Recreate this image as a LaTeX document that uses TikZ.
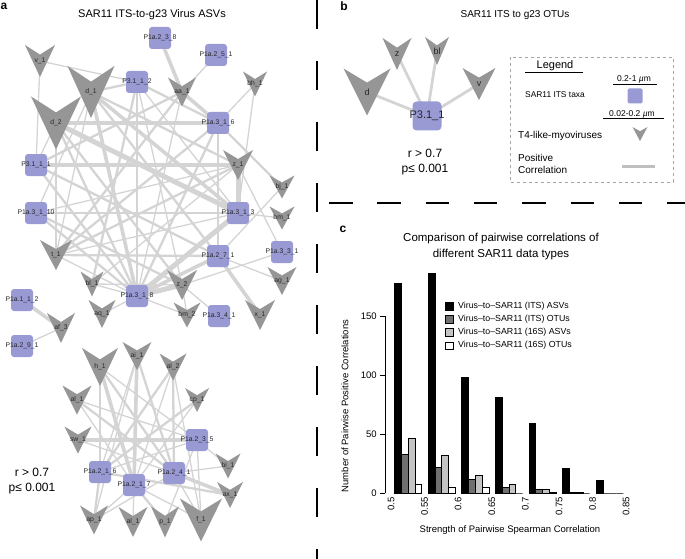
\documentclass[tikz,border=0pt]{standalone}
\usepackage{fontspec}
\setmainfont{Liberation Sans}
\usetikzlibrary{backgrounds}

\definecolor{taxfill}{RGB}{153,153,212}
\definecolor{virfill}{RGB}{150,150,150}
\definecolor{linkgray}{RGB}{212,212,212}
\definecolor{bardark}{RGB}{112,112,112}
\definecolor{barlight}{RGB}{196,196,196}

% virus: name, x, y, width, height, label
\newcommand{\virus}[6]{%
  \fill[virfill] ({#2-#4/2},{#3-#5/2}) -- ({#2},{#3-0.2*#5}) -- ({#2+#4/2},{#3-#5/2}) -- ({#2},{#3+#5/2}) -- cycle;
  \node[virlabel] (#1) at (#2,#3) {#6};
}
% taxon: name, x, y, label
\newcommand{\taxon}[4]{%
  \node[taxbox, label={[taxlabel]center:#4}] (#1) at (#2,#3) {};
}

\begin{document}
\begin{tikzpicture}[x=1pt, y=-1pt,
  virlabel/.style={inner sep=0pt, text=black!85, font=\fontsize{6.8}{7}\selectfont},
  taxbox/.style={fill=taxfill, rounded corners=3pt, minimum size=22pt, inner sep=0pt},
  taxlabel/.style={inner sep=0pt, text=black!85, font=\fontsize{6.8}{7}\selectfont},
  thinlink/.style={linkgray, line width=1.3pt},
  midlink/.style={linkgray, line width=2.3pt},
  thicklink/.style={linkgray, line width=3.6pt},
  heavylink/.style={linkgray, line width=5pt},
  sepline/.style={black, line width=2.7pt},
  paneltag/.style={font=\bfseries\fontsize{12}{14}\selectfont, inner sep=0pt},
  paneltitle/.style={font=\fontsize{11}{13}\selectfont, inner sep=0pt},
  stat/.style={font=\fontsize{12}{15}\selectfont, inner sep=0pt, align=center},
  legtext/.style={font=\fontsize{10}{12}\selectfont, inner sep=0pt, anchor=west},
  charttext/.style={font=\fontsize{9.5}{11}\selectfont, inner sep=0pt},
  keytext/.style={font=\fontsize{8.8}{10}\selectfont, inner sep=0pt, anchor=west},
  barbox/.style={draw=black, line width=0.5pt}
]
\useasboundingbox (0,0) rectangle (685,559);

% panel separators
\draw[sepline, dash pattern=on 29pt off 32pt] (317,0) -- (317,559);
\draw[sepline, dash pattern=on 23.5pt off 24.8pt] (329,203) -- (685,203);

% panel a
\node[paneltag] (taga) at (4,6) {a};
\node[paneltitle] (titlea) at (152,15) {SAR11 ITS-to-g23 Virus ASVs};

% upper network
\taxon{p238}{160}{38}{P1a.2\_3\_8}
\taxon{p251}{216}{55}{P1a.2\_5\_1}
\taxon{p3112}{137}{82}{P3.1\_1\_2}
\taxon{p316}{218}{123}{P1a.3\_1\_6}
\taxon{p3111}{36}{165}{P3.1\_1\_1}
\taxon{p3110}{36}{213}{P1a.3\_1\_10}
\taxon{p313}{238}{213}{P1a.3\_1\_3}
\taxon{p271}{218}{256}{P1a.2\_7\_1}
\taxon{p331}{282}{252}{P1a.3\_3\_1}
\taxon{p318}{137}{296}{P1a.3\_1\_8}
\taxon{p341}{219}{316}{P1a.3\_4\_1}
\taxon{p112}{22}{300}{P1a.1\_1\_2}
\taxon{p291}{22}{346}{P1a.2\_9\_1}
\virus{v1}{40}{61}{30}{32}{v\_1}
\virus{d1}{91}{92}{47}{52}{d\_1}
\virus{d2}{56}{123}{50}{53}{d\_2}
\virus{aa1}{182}{92}{28}{29}{aa\_1}
\virus{bh1}{255}{84}{24}{25}{bh\_1}
\virus{z1}{238}{165}{30}{30}{z\_1}
\virus{bj1}{282}{187}{25}{23}{bj\_1}
\virus{bm1}{282}{218}{25}{23}{bm\_1}
\virus{t1}{56}{255}{32}{30}{t\_1}
\virus{bl1}{92}{284}{23}{25}{bl\_1}
\virus{z2}{182}{285}{30}{30}{z\_2}
\virus{ag1}{282}{281}{29}{28}{ag\_1}
\virus{aq1}{102}{314}{27}{28}{aq\_1}
\virus{bm2}{187}{315}{27}{25}{bm\_2}
\virus{x1}{260}{315}{30}{30}{x\_1}
\virus{af3}{61}{328}{28}{30}{af\_3}

% lower network
\virus{h1}{100}{367}{36}{38}{h\_1}
\virus{ai1}{137}{356}{29}{28}{ai\_1}
\virus{al2}{173}{367}{27}{27}{al\_2}
\virus{al1a}{77}{400}{29}{29}{al\_1}
\virus{cp1}{197}{400}{24}{24}{cp\_1}
\virus{sw1}{78}{440}{27}{27}{sw\_1}
\taxon{p235}{197}{440}{P1a.2\_3\_5}
\taxon{p216}{100}{472}{P1a.2\_1\_6}
\taxon{p217}{134}{485}{P1a.2\_1\_7}
\taxon{p241}{174}{473}{P1a.2\_4\_1}
\virus{bi1}{228}{466}{25}{25}{bi\_1}
\virus{ax1}{230}{495}{26}{26}{ax\_1}
\virus{ap1}{94}{520}{28}{29}{ap\_1}
\virus{al1b}{133}{522}{29}{30}{al\_1}
\virus{p1}{165}{522}{28}{31}{p\_1}
\virus{f1}{201}{520}{42}{43}{f\_1}

\node[stat] (stata) at (32,481) {r > 0.7\\p≤ 0.001};

% correlations, panel a
\begin{scope}[on background layer]
\foreach \a/\b in {v1/p3112, v1/p3111, d1/p3110, d1/t1, d2/p3111, d2/t1, p3112/z2, p3112/p313,
    p3112/p318, p251/aa1, aa1/p318, bh1/p316, bh1/p313, p316/p271, z1/p331, z1/bl1, p3110/z1,
    p313/bm1, p313/t1, bj1/p271, t1/p318, p271/ag1, p331/z2, bl1/p318, bl1/z2, aq1/p318,
    bm2/p318, bm2/z2, z2/p341, p291/af3,
    h1/p235, h1/p216, ai1/p216, ai1/ap1, al2/p217, al2/f1, al1a/p235, al1a/p217, cp1/p217,
    sw1/p241, p235/bi1, p235/f1, p235/p1, p235/p216, p241/bi1, p217/al1b, p217/f1, p241/ap1,
    p241/f1, ap1/p217}
  \draw[thinlink] (\a.center) -- (\b.center);
\foreach \a/\b in {d1/p3112, d1/p271, d1/z1, d2/z2, d2/p318, p3112/p316, p3112/bl1, aa1/p3111,
    aa1/t1, p316/bj1, p316/p318, p316/t1, p3111/p318, p3111/p271, z1/t1, p3110/p313, p3110/p318,
    t1/p271, p3110/z2,
    h1/p241, ai1/p241, al2/p216, al2/p241, al1a/p241, cp1/p216, p216/ax1, p216/ap1, p217/p1}
  \draw[midlink] (\a.center) -- (\b.center);
\foreach \a/\b in {d1/p318, d1/p313, d2/p316, p238/aa1, aa1/p316, p3111/z1, p271/p318, p271/x1,
    p112/af3, h1/p217, ai1/p217, sw1/p235, p241/ax1}
  \draw[thicklink] (\a.center) -- (\b.center);
\foreach \a/\b in {d2/p313, z1/p313, p313/p318, z2/p318}
  \draw[heavylink] (\a.center) -- (\b.center);
\end{scope}

% panel b
\node[paneltag] (tagb) at (344,6) {b};
\node[paneltitle, font=\fontsize{10}{12}\selectfont] (titleb) at (515,15) {SAR11 ITS to g23 OTUs};
\virus{bz}{397}{54}{29}{32}{\fontsize{9}{10}\selectfont z}
\virus{bbl}{437}{51}{24}{28}{\fontsize{9}{10}\selectfont bl}
\virus{bd}{367}{92}{47}{47}{\fontsize{9}{10}\selectfont d}
\virus{bv}{479}{84}{33}{32}{\fontsize{9}{10}\selectfont v}
\node[taxbox, minimum size=29pt, rounded corners=4pt,
  label={[taxlabel, font=\fontsize{11}{12}\selectfont]center:P3.1\_1}] (p311) at (427,116) {};
\begin{scope}[on background layer]
\foreach \a in {bz, bbl, bd, bv}
  \draw[midlink, line width=2.8pt] (p311.center) -- (\a.center);
\end{scope}
\node[stat] (statb) at (425,162) {r > 0.7\\p≤ 0.001};

% legend
\draw[gray!70, dashed, line width=0.6pt] (510,57) rectangle (673,182);
\node[legtext, font=\fontsize{11}{13}\selectfont, anchor=center] (legtitle) at (555,66) {Legend};
\draw[line width=0.6pt] (525,72) -- (583,72);
\node[legtext, font=\fontsize{8.5}{10}\selectfont, anchor=center] (legsize1) at (634,79) {0.2-1 {\itshape µ}m};
\draw[line width=0.6pt] (613,84) -- (657,84);
\node[legtext, font=\fontsize{8.4}{10}\selectfont] (legtax) at (525,95) {SAR11 ITS taxa};
\node[fill=taxfill, rounded corners=1.5pt, minimum size=15pt, inner sep=0pt] (legsq) at (635,96) {};
\node[legtext, font=\fontsize{8.5}{10}\selectfont, anchor=center] (legsize2) at (632,114) {0.02-0.2 {\itshape µ}m};
\draw[line width=0.6pt] (603,118) -- (664,118);
\node[legtext] (legvir) at (518,136) {T4-like-myoviruses};
\virus{legtri}{640}{134}{15}{14}{}
\node[legtext, align=left] (legcorr) at (518,164) {Positive\\Correlation};
\coordinate (lgA) at (622,166);
\coordinate (lgB) at (655,166);
\draw[linkgray!90!black, line width=3pt] (lgA) -- (lgB);

% panel c
\node[paneltag] (tagc) at (343,229) {c};
\node[paneltitle, font=\fontsize{11.5}{16}\selectfont, align=center] (titlec) at (501,247)
  {Comparison of pairwise correlations of\\different SAR11 data types};

% bars: group, ITS ASVs, ITS OTUs, 16S ASVs, 16S OTUs
\foreach \g/\va/\vb/\vc/\vd in {0/178/33/46/7, 1/186/22/32/5, 2/98/12/15/5, 3/81/5/7/0,
    4/59/3/3/1, 5/21/1/1/0, 6/11/0/0/0} {
  \draw[barbox, fill=black] (394.5+33.6*\g, 493) rectangle ++(6.8, -1.18*\va);
  \draw[barbox, fill=bardark] (401.3+33.6*\g, 493) rectangle ++(6.8, -1.18*\vb);
  \draw[barbox, fill=barlight] (408.1+33.6*\g, 493) rectangle ++(6.8, -1.18*\vc);
  \draw[barbox, fill=white] (414.9+33.6*\g, 493) rectangle ++(6.8, -1.18*\vd);
}

% y axis
\draw[line width=0.5pt] (385,493) -- (385,316);
\foreach \v in {0,50,100,150}
  \draw[line width=0.5pt] (385,493-1.18*\v) -- ++(-5,0) node[charttext, left=3pt] (ytick\v) {\v};
\node[charttext, rotate=90] (ylabel) at (345,406) {Number of Pairwise Positive Correlations};

% x axis
\foreach \i/\t in {0/0.5, 1/0.55, 2/0.6, 3/0.65, 4/0.7, 5/0.75, 6/0.8, 7/0.85}
  \node[charttext, rotate=90, anchor=east] (xtick\i) at (391+33.6*\i, 497) {\t};
\node[charttext] (xlabel) at (510,530) {Strength of Pairwise Spearman Correlation};

% key
\foreach \k/\col/\txt in {0/black/{Virus--to--SAR11 (ITS) ASVs}, 1/bardark/{Virus--to--SAR11 (ITS) OTUs},
    2/barlight/{Virus--to--SAR11 (16S) ASVs}, 3/white/{Virus--to--SAR11 (16S) OTUs}} {
  \node[draw, line width=0.5pt, fill=\col, minimum size=7.5pt, inner sep=0pt] (key\k) at (449,306+13.2*\k) {};
  \node[keytext] (keytext\k) at (458,306+13.2*\k) {\txt};
}

\end{tikzpicture}
\end{document}
